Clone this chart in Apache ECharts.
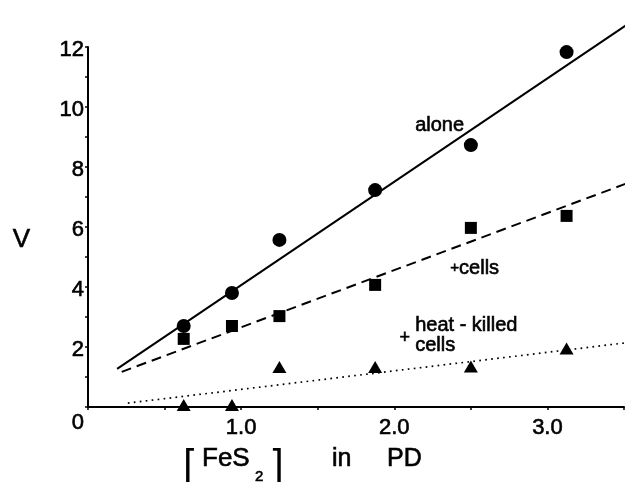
<!DOCTYPE html>
<html>
<head>
<meta charset="utf-8">
<script src="https://cdn.jsdelivr.net/npm/echarts@6/dist/echarts.min.js"></script>
<style>
  html, body { margin: 0; padding: 0; background: #fff; }
  #chart { width: 641px; height: 483px; }
</style>
</head>
<body>
<div id="chart"></div>
<script>
// FeS2 concentration (PD) and measured rates V
const fes2 = [0.625, 0.94, 1.25, 1.875, 2.5, 3.125];
const vAlone = [2.7, 3.8, 5.57, 7.23, 8.73, 11.83];
const vCells = [2.27, 2.7, 3.03, 4.07, 5.97, 6.37];
const vHeatKilled = [0.07, 0.07, 1.33, 1.33, 1.35, 1.95];

// fitted straight lines (end points)
const fitAlone = [[0.19, 1.27], [3.55, 12.85]];
const fitCells = [[0.22, 1.17], [3.61, 7.63]];
const fitHeatKilled = [[0.26, 0.13], [3.61, 2.2]];

// tick labels
const xTickLabels = { '1': '1.0', '2': '2.0', '3': '3.0' };
const yTickLabels = ['2', '4', '6', '8', '10', '12'];

const FONT = 'Liberation Sans';
const INK = '#000';
// a thin outline in the ink colour gives the lettering a medium weight
const HEAVY = { textBorderColor: INK, textBorderWidth: 0.6 };

const pairs = ys => fes2.map((x, i) => [x, ys[i]]);

function noteLabel(text, coord, opts) {
  return {
    symbol: 'circle',
    symbolSize: 1,
    itemStyle: { color: 'rgba(0,0,0,0)' },
    label: Object.assign({
      show: true,
      position: 'inside',
      formatter: text,
      color: INK,
      fontFamily: FONT,
      fontSize: 20
    }, HEAVY, opts || {}),
    data: [{ coord: coord }]
  };
}

const chart = echarts.init(document.getElementById('chart'));
chart.setOption({
  animation: false,
  backgroundColor: '#fff',
  grid: { left: 88, right: 17, top: 47, bottom: 76, outerBoundsMode: 'none' },
  xAxis: {
    type: 'value',
    min: 0, max: 3.5, interval: 0.5,
    splitLine: { show: false },
    axisLine: { lineStyle: { color: INK, width: 2 } },
    axisTick: { show: true, length: 3, lineStyle: { color: INK, width: 1.5 } },
    axisLabel: Object.assign({
      margin: 10,
      color: INK, fontFamily: FONT, fontSize: 22,
      formatter: v => xTickLabels[String(v)] || ''
    }, HEAVY)
  },
  yAxis: {
    type: 'value',
    min: 0, max: 12, interval: 1,
    splitLine: { show: false },
    axisLine: { lineStyle: { color: INK, width: 2 } },
    axisTick: { show: true, length: 3, lineStyle: { color: INK, width: 1.5 } },
    axisLabel: Object.assign({
      margin: 4,
      color: INK, fontFamily: FONT, fontSize: 22,
      formatter: v => {
        if (v === 0) return '{z|0}';
        return yTickLabels.indexOf(String(v)) >= 0 ? '{n|' + v + '}' : '';
      },
      rich: {
        z: Object.assign({ fontFamily: FONT, fontSize: 22, color: INK, padding: [32, 0, 0, 0] }, HEAVY),
        n: Object.assign({ fontFamily: FONT, fontSize: 22, color: INK, padding: [6, 0, 0, 0] }, HEAVY)
      }
    }, HEAVY),
    name: 'V',
    nameLocation: 'middle',
    nameRotate: 0,
    nameGap: 58,
    nameTextStyle: Object.assign({ color: INK, fontFamily: FONT, fontSize: 26, verticalAlign: 'top' }, HEAVY)
  },
  series: [
    {
      type: 'line', data: fitAlone, symbol: 'none', clip: false, silent: true,
      lineStyle: { color: INK, width: 2 },
      markPoint: noteLabel('alone', [2.296, 9.37])
    },
    {
      type: 'line', data: fitCells, symbol: 'none', clip: false, silent: true,
      lineStyle: { color: INK, width: 2, type: [10, 6] },
      markPoint: noteLabel('{p|+}cells', [2.525, 4.63], {
        rich: { p: Object.assign({ fontFamily: FONT, fontSize: 15, color: INK }, HEAVY) }
      })
    },
    {
      type: 'line', data: fitHeatKilled, symbol: 'none', clip: false, silent: true,
      lineStyle: { color: INK, width: 1.7, type: [1.7, 4.3] },
      markPoint: {
        symbol: 'circle', symbolSize: 1,
        itemStyle: { color: 'rgba(0,0,0,0)' },
        data: [
          { coord: [2.068, 2.3], label: Object.assign({ show: true, position: 'inside', formatter: '+', color: INK, fontFamily: FONT, fontSize: 18 }, HEAVY) },
          { coord: [2.133, 2.37], label: Object.assign({ show: true, position: 'right', distance: 0, formatter: 'heat - killed\ncells', color: INK, fontFamily: FONT, fontSize: 20, lineHeight: 20 }, HEAVY) }
        ]
      }
    },
    {
      type: 'scatter', data: pairs(vAlone), symbol: 'circle', symbolSize: 14,
      itemStyle: { color: INK, opacity: 1 }, clip: false, z: 4
    },
    {
      type: 'scatter', data: pairs(vCells), symbol: 'rect', symbolSize: 12,
      itemStyle: { color: INK, opacity: 1 }, clip: false, z: 4
    },
    {
      type: 'scatter', data: pairs(vHeatKilled), symbol: 'triangle', symbolSize: [14, 12],
      itemStyle: { color: INK, opacity: 1 }, clip: false, z: 4
    }
  ],
  graphic: [
    { type: 'text', x: 183, y: 467, style: { text: '\u2308', font: '38px "DejaVu Sans"', fill: INK, verticalAlign: 'middle' } },
    { type: 'text', x: 202, y: 459, style: { text: 'FeS', font: '26px "Liberation Sans"', fill: INK, stroke: INK, lineWidth: 0.6, verticalAlign: 'middle' } },
    { type: 'text', x: 255, y: 477, style: { text: '2', font: '15px "Liberation Sans"', fill: INK, stroke: INK, lineWidth: 0.6, verticalAlign: 'middle' } },
    { type: 'text', x: 284, y: 467, style: { text: '\u2309', font: '38px "DejaVu Sans"', fill: INK, verticalAlign: 'middle', align: 'right' } },
    { type: 'text', x: 332, y: 459, style: { text: 'in', font: '25px "Liberation Sans"', fill: INK, stroke: INK, lineWidth: 0.6, verticalAlign: 'middle' } },
    { type: 'text', x: 387, y: 459, style: { text: 'PD', font: '25px "Liberation Sans"', fill: INK, stroke: INK, lineWidth: 0.6, verticalAlign: 'middle' } }
  ]
});
</script>
</body>
</html>
